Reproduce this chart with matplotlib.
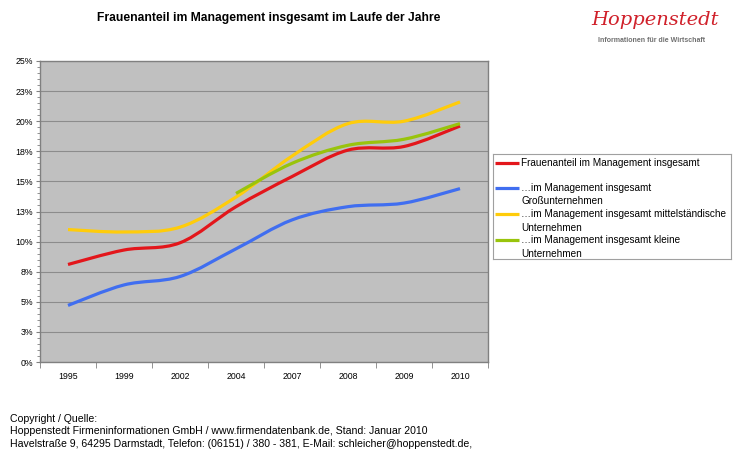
import matplotlib.pyplot as plt
from matplotlib.path import Path
from matplotlib.patches import PathPatch
import numpy as np

plt.rcParams['font.family'] = ['Liberation Sans', 'DejaVu Sans']

# Data (Frauenanteil in %)
years = ['1995', '1999', '2002', '2004', '2007', '2008', '2009', '2010']
gesamt = [8.1, 9.3, 9.9, 12.9, 15.4, 17.6, 17.9, 19.6]
gross = [4.7, 6.4, 7.1, 9.4, 11.8, 12.9, 13.2, 14.4]
mittel = [11.0, 10.8, 11.2, 13.7, 17.1, 19.8, 20.0, 21.6]
klein = [None, None, None, 14.0, 16.5, 18.0, 18.5, 19.8]

y_ticks = [0, 2.5, 5, 7.5, 10, 12.5, 15, 17.5, 20, 22.5, 25]
y_labels = ['0%', '3%', '5%', '8%', '10%', '13%', '15%', '18%', '20%', '23%', '25%']

series = [
    ('Frauenanteil im Management insgesamt', gesamt, '#E3161B'),
    ('…im Management insgesamt\nGroßunternehmen', gross, '#406EF0'),
    ('…im Management insgesamt mittelständische\nUnternehmen', mittel, '#FFCC0A'),
    ('…im Management insgesamt kleine\nUnternehmen', klein, '#99C40C'),
]


def smooth_path(xs, ys):
    # Excel-like smoothed line (Catmull-Rom as cubic Bezier)
    n = len(xs)
    verts = [(xs[0], ys[0])]
    codes = [Path.MOVETO]
    for i in range(n - 1):
        p0 = i - 1 if i > 0 else i
        p3 = i + 2 if i + 2 < n else i + 1
        c1 = (xs[i] + (xs[i + 1] - xs[p0]) / 6, ys[i] + (ys[i + 1] - ys[p0]) / 6)
        c2 = (xs[i + 1] - (xs[p3] - xs[i]) / 6, ys[i + 1] - (ys[p3] - ys[i]) / 6)
        verts += [c1, c2, (xs[i + 1], ys[i + 1])]
        codes += [Path.CURVE4] * 3
    return Path(verts, codes)


W, H = 746, 453
fig = plt.figure(figsize=(W / 100, H / 100), dpi=100)
fig.patch.set_facecolor('white')

ax = fig.add_axes([40 / W, 1 - 362 / H, 448 / W, 301 / H])
ax.set_facecolor('#C0C0C0')
ax.set_xlim(-0.5, len(years) - 0.5)
ax.set_ylim(0, 25)

for label, vals, color in series:
    pts = [(i, v) for i, v in enumerate(vals) if v is not None]
    xs = [p[0] for p in pts]
    ys = [p[1] for p in pts]
    ax.add_patch(PathPatch(smooth_path(xs, ys), fill=False, edgecolor=color,
                           lw=2.3, capstyle='butt', zorder=3))

ax.set_yticks(y_ticks)
ax.set_yticklabels(y_labels)
ax.set_yticks(np.arange(0, 25.01, 0.5), minor=True)
ax.yaxis.grid(True, which='major', color='#8C8C8C', lw=0.8)
ax.set_axisbelow(True)
ax.tick_params(axis='y', which='major', labelsize=6.3, length=3, pad=2, color='#808080')
ax.tick_params(axis='y', which='minor', length=2, color='#808080')

ax.set_xticks(range(len(years)))
ax.set_xticklabels(years)
ax.set_xticks(np.arange(-0.5, len(years)), minor=True)
ax.tick_params(axis='x', which='major', labelsize=6.3, length=0, pad=7)
ax.tick_params(axis='x', which='minor', length=4, color='#808080')
for s in ax.spines.values():
    s.set_color('#808080')
    s.set_linewidth(1.0)

# Legend box
lax = fig.add_axes([493 / W, 1 - 259 / H, (731 - 493) / W, (259 - 154) / H])
lax.set_xlim(493, 731)
lax.set_ylim(259, 154)
lax.set_xticks([])
lax.set_yticks([])
for s in lax.spines.values():
    s.set_color('#A0A0A0')
    s.set_linewidth(0.8)
row_y = [162.7, 187.5, 214, 240]
for (label, vals, color), ry in zip(series, row_y):
    lax.plot([495, 519], [ry, ry], color=color, lw=2.3, solid_capstyle='butt')
    for k, line in enumerate(label.split('\n')):
        lax.text(521, ry + k * 13.5, line, fontsize=7.2, va='center', ha='left')

# Title
fig.text(268.5 / W, 1 - 18 / H, 'Frauenanteil im Management insgesamt im Laufe der Jahre',
         ha='center', va='center', fontsize=8.7, fontweight='bold')

# Logo
fig.text(655 / W, 1 - 20 / H, 'Hoppenstedt', ha='center', va='center', fontsize=14,
         color='#D0202A', family='DejaVu Serif', style='italic')
fig.text(652 / W, 1 - 40 / H, 'Informationen für die Wirtschaft', ha='center', va='center',
         fontsize=5, color='#707070', fontweight='bold')

# Footer
fig.text(10 / W, 1 - 413.5 / H,
         'Copyright / Quelle:\n'
         'Hoppenstedt Firmeninformationen GmbH / www.firmendatenbank.de, Stand: Januar 2010\n'
         'Havelstraße 9, 64295 Darmstadt, Telefon: (06151) / 380 - 381, E-Mail: schleicher@hoppenstedt.de,',
         ha='left', va='top', fontsize=7.6, linespacing=1.36)

fig.savefig('out.png', dpi=100)
